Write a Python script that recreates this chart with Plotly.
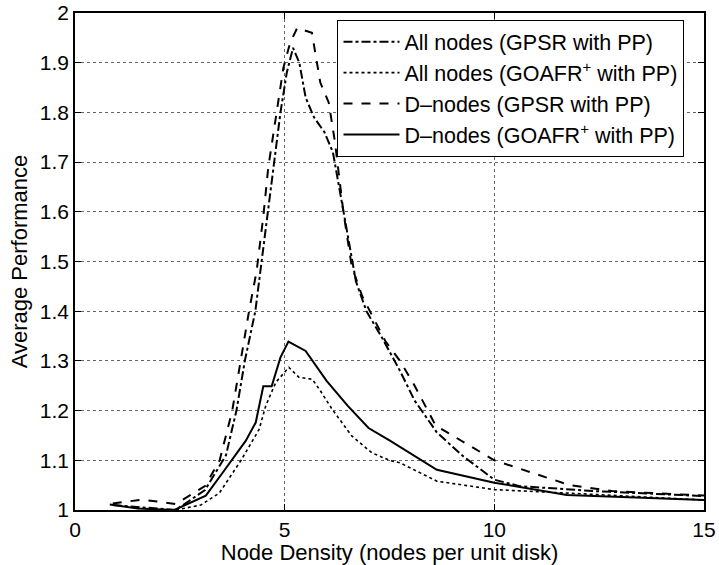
import plotly.graph_objects as go

# All nodes (GPSR with PP) - dash-dot
x_all_gpsr = [0.9, 2.4, 3.1, 3.6, 3.85, 4.05, 4.3, 4.45, 4.6, 4.75, 4.9, 5.05, 5.2, 5.35, 5.5, 5.7,
              5.95, 6.15, 6.3, 6.5, 6.7, 6.95, 7.3, 7.75, 8.1, 8.63, 9.26, 10.0, 10.6, 12.4, 15.0]
y_all_gpsr = [1.01, 1.0, 1.04, 1.11, 1.2, 1.3, 1.4, 1.5, 1.6, 1.7, 1.8, 1.88, 1.93, 1.90, 1.83, 1.79,
              1.76, 1.72, 1.65, 1.55, 1.46, 1.40, 1.35, 1.28, 1.22, 1.156, 1.108, 1.061, 1.048, 1.038, 1.028]

# All nodes (GOAFR+ with PP) - dotted
x_all_goafr = [2.41, 3.0, 3.44, 3.96, 4.39, 4.55, 4.79, 5.1, 5.34, 5.66, 5.85, 6.13, 6.6, 7.08, 7.5,
               7.75, 8.63, 10.0, 12.0, 15.0]
y_all_goafr = [1.0, 1.01, 1.034, 1.10, 1.162, 1.21, 1.257, 1.287, 1.267, 1.263, 1.24, 1.203, 1.149,
               1.115, 1.10, 1.095, 1.058, 1.041, 1.033, 1.02]

# D-nodes (GPSR with PP) - dashed
x_d_gpsr = [0.9, 1.6, 2.4, 3.1, 3.45, 3.75, 3.95, 4.15, 4.33, 4.49, 4.61, 4.81, 4.97, 5.13, 5.3, 5.65,
            5.85, 6.05, 6.2, 6.4, 6.6, 6.85, 7.1, 7.4, 7.75, 8.1, 8.6, 9.3, 10.0, 10.9, 11.8, 12.8, 15.0]
y_d_gpsr = [1.013, 1.021, 1.012, 1.048, 1.10, 1.20, 1.30, 1.40, 1.48, 1.59, 1.69, 1.80, 1.89, 1.94, 1.97,
            1.96, 1.86, 1.82, 1.74, 1.60, 1.49, 1.43, 1.39, 1.34, 1.30, 1.25, 1.17, 1.135, 1.10, 1.075,
            1.05, 1.038, 1.029]

# D-nodes (GOAFR+ with PP) - solid
x_d_goafr = [0.83, 1.5, 2.37, 3.12, 3.52, 4.07, 4.31, 4.49, 4.69, 4.9, 5.09, 5.5, 6.0, 6.5, 7.0, 7.5,
             8.63, 10.0, 11.73, 15.0]
y_d_goafr = [1.011, 1.003, 1.0, 1.029, 1.075, 1.139, 1.176, 1.249, 1.249, 1.307, 1.339, 1.32, 1.26,
             1.21, 1.165, 1.14, 1.081, 1.055, 1.03, 1.02]

x_ticks = [0, 5, 10, 15]
y_ticks = [1, 1.1, 1.2, 1.3, 1.4, 1.5, 1.6, 1.7, 1.8, 1.9, 2]
y_tick_text = ["1", "1.1", "1.2", "1.3", "1.4", "1.5", "1.6", "1.7", "1.8", "1.9", "2"]

FONT = "Liberation Sans, Arial, sans-serif"

fig = go.Figure()
fig.add_trace(go.Scatter(x=x_all_gpsr, y=y_all_gpsr, mode="lines",
                         name="All nodes (GPSR with PP)",
                         line=dict(color="black", width=2, dash="dashdot")))
fig.add_trace(go.Scatter(x=x_all_goafr, y=y_all_goafr, mode="lines",
                         name="All nodes (GOAFR<sup>+</sup> with PP)",
                         line=dict(color="black", width=1.6, dash="dot")))
fig.add_trace(go.Scatter(x=x_d_gpsr, y=y_d_gpsr, mode="lines",
                         name="D\u2013nodes (GPSR with PP)",
                         line=dict(color="black", width=2, dash="dash")))
fig.add_trace(go.Scatter(x=x_d_goafr, y=y_d_goafr, mode="lines",
                         name="D\u2013nodes (GOAFR<sup>+</sup> with PP)",
                         line=dict(color="black", width=2)))

axis_common = dict(showline=True, linecolor="black", linewidth=1.5, mirror="ticks",
                   ticks="inside", ticklen=6, tickcolor="black", automargin=False,
                   showgrid=True, gridcolor="#666", griddash="dot", gridwidth=1,
                   zeroline=False, tickfont=dict(size=21, color="black", family=FONT))

fig.update_layout(
    width=719, height=565,
    margin=dict(l=75, r=15, t=13, b=55),
    paper_bgcolor="white", plot_bgcolor="white",
    font=dict(family=FONT, color="black", size=21),
    xaxis=dict(range=[0, 15], tickvals=x_ticks, ticktext=[str(v) for v in x_ticks],
               title=dict(text="Node Density (nodes per unit disk)", font=dict(size=22), standoff=0),
               ticklabelstandoff=0,
               **axis_common),
    yaxis=dict(range=[1, 2], tickvals=y_ticks, ticktext=y_tick_text,
               title=dict(text="Average Performance", font=dict(size=22), standoff=6),
               ticklabelstandoff=0,
               **axis_common),
    legend=dict(x=0.417, y=0.986, xanchor="left", yanchor="top",
                bgcolor="white", bordercolor="black", borderwidth=1.2, itemwidth=56,
                font=dict(size=21.5, family=FONT), tracegroupgap=0),
    showlegend=True,
)

fig.write_html("out.html")
